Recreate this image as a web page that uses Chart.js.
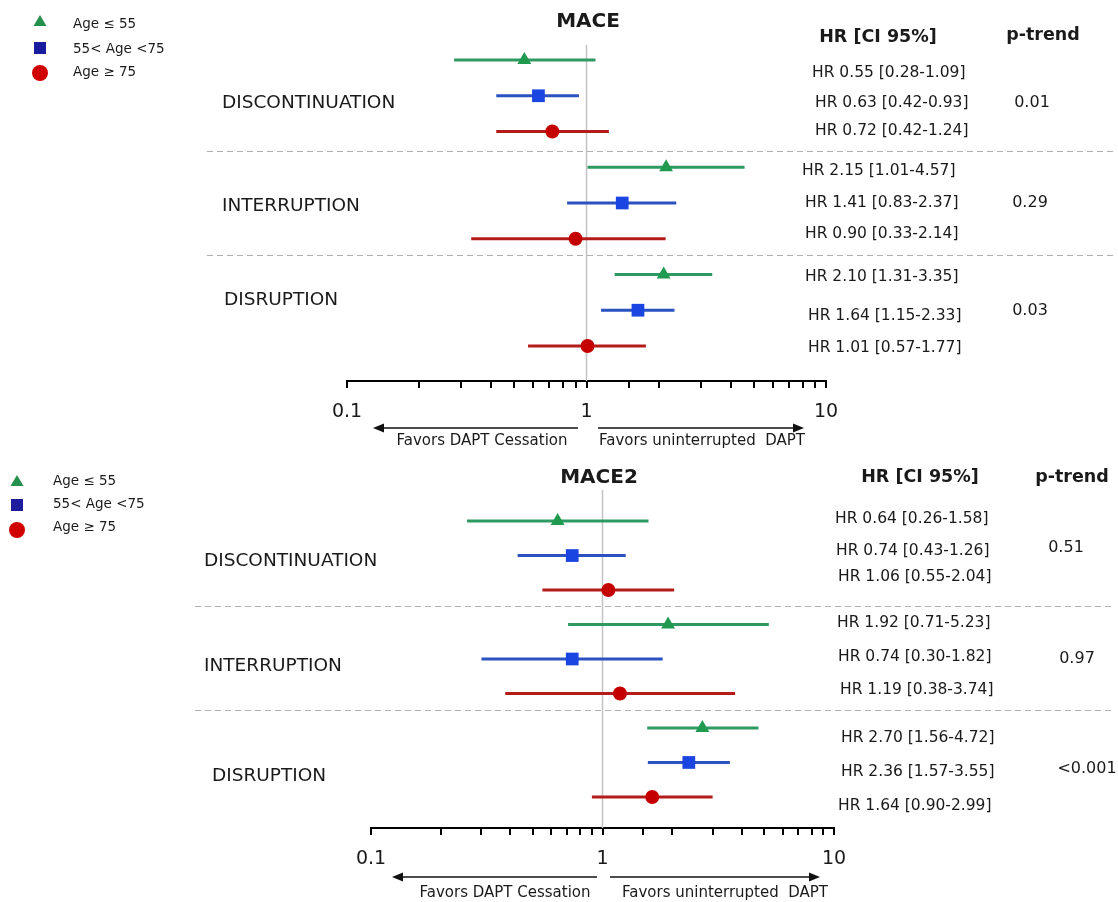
<!DOCTYPE html>
<html>
<head>
<meta charset="utf-8">
<script src="https://cdn.jsdelivr.net/npm/chart.js@4.4.1/dist/chart.umd.min.js"></script>
<style>
  body { margin: 0; background: #fff; }
  #wrap { position: relative; width: 1118px; height: 902px; }
  canvas { position: absolute; left: 0; }
</style>
</head>
<body>
<div id="wrap">
  <canvas id="mace" width="1118" height="451" style="top:0"></canvas>
  <canvas id="mace2" width="1118" height="451" style="top:451px"></canvas>
</div>
<script>
// data
const categories = ['DISCONTINUATION', 'INTERRUPTION', 'DISRUPTION'];
const ageGroups = ['Age \u2264 55', '55< Age <75', 'Age \u2265 75'];

// rows: for each category, the three age groups in order
const maceHR   = [0.55, 0.63, 0.72, 2.15, 1.41, 0.90, 2.10, 1.64, 1.01];
const maceLow  = [0.28, 0.42, 0.42, 1.01, 0.83, 0.33, 1.31, 1.15, 0.57];
const maceHigh = [1.09, 0.93, 1.24, 4.57, 2.37, 2.14, 3.35, 2.33, 1.77];
const macePTrend = ['0.01', '0.29', '0.03'];

const mace2HR   = [0.64, 0.74, 1.06, 1.92, 0.74, 1.19, 2.70, 2.36, 1.64];
const mace2Low  = [0.26, 0.43, 0.55, 0.71, 0.30, 0.38, 1.56, 1.57, 0.90];
const mace2High = [1.58, 1.26, 2.04, 5.23, 1.82, 3.74, 4.72, 3.55, 2.99];
const mace2PTrend = ['0.51', '0.97', '<0.001'];

const xTickLabels = ['0.1', '1', '10'];

// styles
const FONT = '"DejaVu Sans", sans-serif';
const lineColors = ['#2e9960', '#2a52c0', '#b41c1c'];
const markColors = ['#1f9a4f', '#1a45e0', '#c40000'];
const markStyles = ['triangle', 'rect', 'circle'];
const markRadius = [8, 9, 7];
const legendColors = ['#23904c', '#1c1c9c', '#d00000'];

// layout of each panel (page pixels)
const layouts = {
  mace: {
    top: 0, title: 'MACE', titleX: 588, titleY: 22,
    padL: 347, padR: 292, padT: 45, axisH: 70, yMin: -0.42, yMax: 8.98,
    sepRows: [2.55, 5.45], sepX: [207, 1113],
    catX: [222, 222, 224], catY: [103, 206, 300],
    hrHead: [878, 37], pHead: [1043, 35],
    hrX: [812, 815, 815, 802, 805, 805, 805, 808, 808],
    hrY: [73, 103, 131, 171, 203, 234, 277, 316, 348],
    pX: [1032, 1030, 1030], pY: [103, 203, 311],
    arrowY: 428, favY: 441, favX: [482, 702], arrowL: [578, 373], arrowR: [598, 804],
    legX: 40, legTextX: 73, legY: [21, 48, 73], legTextY: [24, 49, 72]
  },
  mace2: {
    top: 451, title: 'MACE2', titleX: 599, titleY: 478,
    padL: 371, padR: 284, padT: 39, axisH: 74, yMin: -0.9, yMax: 8.9,
    sepRows: [2.46, 5.48], sepX: [195, 1113],
    catX: [204, 204, 212], catY: [561, 666, 776],
    hrHead: [920, 477], pHead: [1072, 477],
    hrX: [835, 836, 838, 837, 838, 840, 841, 841, 838],
    hrY: [519, 551, 577, 623, 657, 690, 738, 772, 806],
    pX: [1066, 1077, 1087], pY: [548, 659, 769],
    arrowY: 877, favY: 893, favX: [505, 725], arrowL: [597, 392], arrowR: [610, 820],
    legX: 17, legTextX: 53, legY: [481, 505, 530], legTextY: [481, 504, 527]
  }
};

function fmt(v) { return v.toFixed(2); }

function drawArrow(ctx, x1, x2, y) {
  const dir = x2 > x1 ? 1 : -1;
  ctx.beginPath();
  ctx.moveTo(x1, y);
  ctx.lineTo(x2 - dir * 8, y);
  ctx.stroke();
  ctx.beginPath();
  ctx.moveTo(x2, y);
  ctx.lineTo(x2 - dir * 11, y - 4.5);
  ctx.lineTo(x2 - dir * 11, y + 4.5);
  ctx.closePath();
  ctx.fill();
}

const decorPlugin = {
  id: 'decor',
  afterDraw(chart, args, opts) {
    const L = opts.layout;
    const ctx = chart.ctx;
    const yS = chart.scales.y;
    const off = L.top;
    ctx.save();

    // dashed separators
    ctx.strokeStyle = '#b0b0b0';
    ctx.lineWidth = 1;
    ctx.setLineDash([6, 4]);
    L.sepRows.forEach(r => {
      const y = Math.round(yS.getPixelForValue(r)) + 0.5;
      ctx.beginPath();
      ctx.moveTo(L.sepX[0], y);
      ctx.lineTo(L.sepX[1], y);
      ctx.stroke();
    });
    ctx.setLineDash([]);

    ctx.fillStyle = '#1a1a1a';
    ctx.textBaseline = 'middle';

    // title and headers
    ctx.font = 'bold 20px ' + FONT;
    ctx.textAlign = 'center';
    ctx.fillText(L.title, L.titleX, L.titleY - off);
    ctx.font = 'bold 17.5px ' + FONT;
    ctx.fillText('HR [CI 95%]', L.hrHead[0], L.hrHead[1] - off);
    ctx.fillText('p-trend', L.pHead[0], L.pHead[1] - off);

    // category labels
    ctx.font = '18.5px ' + FONT;
    ctx.textAlign = 'left';
    categories.forEach((c, i) => ctx.fillText(c, L.catX[i], L.catY[i] - off));

    // HR text
    ctx.font = '15.5px ' + FONT;
    opts.hr.forEach((h, i) => {
      const s = 'HR ' + fmt(h) + ' [' + fmt(opts.low[i]) + '-' + fmt(opts.high[i]) + ']';
      ctx.fillText(s, L.hrX[i], L.hrY[i] - off);
    });

    // p-trend values
    ctx.font = '16px ' + FONT;
    ctx.textAlign = 'center';
    opts.p.forEach((p, i) => ctx.fillText(p, L.pX[i], L.pY[i] - off));

    // favors arrows
    ctx.strokeStyle = '#111';
    ctx.fillStyle = '#111';
    ctx.lineWidth = 1.5;
    drawArrow(ctx, L.arrowL[0], L.arrowL[1], L.arrowY - off);
    drawArrow(ctx, L.arrowR[0], L.arrowR[1], L.arrowY - off);
    ctx.fillStyle = '#1a1a1a';
    ctx.font = '15px ' + FONT;
    ctx.fillText('Favors DAPT Cessation', L.favX[0], L.favY - off);
    ctx.fillText('Favors uninterrupted  DAPT', L.favX[1], L.favY - off);

    // legend
    const lx = L.legX;
    let y = L.legY[0] - off;
    ctx.fillStyle = legendColors[0];
    ctx.beginPath();
    ctx.moveTo(lx, y - 6);
    ctx.lineTo(lx + 6.5, y + 5);
    ctx.lineTo(lx - 6.5, y + 5);
    ctx.closePath();
    ctx.fill();
    y = L.legY[1] - off;
    ctx.fillStyle = legendColors[1];
    ctx.fillRect(lx - 6, y - 6, 12, 12);
    y = L.legY[2] - off;
    ctx.fillStyle = legendColors[2];
    ctx.beginPath();
    ctx.arc(lx, y, 8, 0, Math.PI * 2);
    ctx.fill();
    ctx.fillStyle = '#1a1a1a';
    ctx.font = '13.5px ' + FONT;
    ctx.textAlign = 'left';
    ageGroups.forEach((g, i) => ctx.fillText(g, L.legTextX, L.legTextY[i] - off));

    ctx.restore();
  }
};

function buildPanel(id, hr, low, high, pTrend) {
  const L = layouts[id];
  const datasets = [];

  // point markers, one dataset per age group
  ageGroups.forEach((g, k) => {
    const pts = [];
    for (let i = k; i < hr.length; i += 3) pts.push({ x: hr[i], y: i });
    datasets.push({
      type: 'scatter', label: g, data: pts, order: 0,
      pointStyle: markStyles[k], pointRadius: markRadius[k],
      backgroundColor: markColors[k], borderColor: markColors[k], borderWidth: 0
    });
  });

  // confidence intervals
  hr.forEach((h, i) => {
    datasets.push({
      type: 'line', data: [{ x: low[i], y: i }, { x: high[i], y: i }], order: 1,
      borderColor: lineColors[i % 3], borderWidth: 3, pointRadius: 0, borderCapStyle: 'butt'
    });
  });

  // reference line at HR = 1
  datasets.push({
    type: 'line', data: [{ x: 1, y: L.yMin }, { x: 1, y: L.yMax }], order: 2,
    borderColor: '#c2c2c2', borderWidth: 1.5, pointRadius: 0
  });

  new Chart(document.getElementById(id), {
    type: 'scatter',
    data: { datasets: datasets },
    options: {
      responsive: false,
      animation: false,
      devicePixelRatio: 1,
      layout: { padding: { left: L.padL, right: L.padR, top: L.padT, bottom: 0 } },
      scales: {
        x: {
          type: 'logarithmic', min: 0.1, max: 10,
          border: { display: true, color: '#000', width: 2 },
          grid: { drawOnChartArea: false, drawTicks: true, tickLength: 7, color: '#000', lineWidth: 2 },
          ticks: {
            autoSkip: false, maxRotation: 0, padding: 13,
            color: '#1a1a1a', font: { family: FONT, size: 19 },
            callback: function (v) {
              const e = Math.log10(v);
              if (Math.abs(e - Math.round(e)) < 1e-6) return xTickLabels[Math.round(e) + 1];
              return '';
            }
          },
          afterFit: function (s) { s.height = L.axisH; }
        },
        y: { type: 'linear', reverse: true, min: L.yMin, max: L.yMax, display: false }
      },
      plugins: {
        legend: { display: false },
        tooltip: { enabled: false },
        decor: { layout: L, hr: hr, low: low, high: high, p: pTrend }
      }
    },
    plugins: [decorPlugin]
  });
}

buildPanel('mace', maceHR, maceLow, maceHigh, macePTrend);
buildPanel('mace2', mace2HR, mace2Low, mace2High, mace2PTrend);
</script>
</body>
</html>
